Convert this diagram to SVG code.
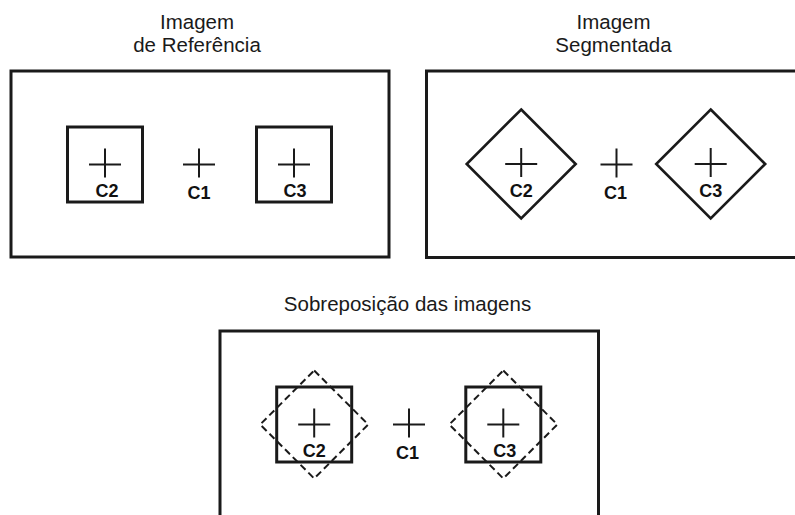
<svg xmlns="http://www.w3.org/2000/svg" xmlns:xlink="http://www.w3.org/1999/xlink" width="795" height="515" viewBox="0 0 795 515">
  <style>
    .frame { fill: none; stroke: #1a1a1a; stroke-width: 3; }
    .sq { fill: none; stroke: #1a1a1a; stroke-width: 3; }
    .dia { fill: none; stroke: #1a1a1a; stroke-width: 2.6; stroke-linejoin: miter; }
    .dash { fill: none; stroke: #1a1a1a; stroke-width: 2; stroke-dasharray: 7 4; }
    .cross { stroke: #1a1a1a; stroke-width: 2; fill: none; }
    .title { font-family: "Liberation Sans", Arial, sans-serif; font-size: 20.5px; fill: #1a1a1a; text-anchor: middle; }
    .lbl { font-family: "Liberation Sans", Arial, sans-serif; font-size: 18px; font-weight: bold; fill: #111; text-anchor: middle; }
  </style>
  <defs>
    <!-- centroid marker -->
    <path id="cross" class="cross" d="M-16 0H16M0 -16V13"/>
    <!-- square region, 75 px side -->
    <rect id="square" class="sq" x="-37.5" y="-37.5" width="75" height="75"/>
    <!-- rotated region (segmented) -->
    <path id="diamond" class="dia" d="M0 -54.5L54.5 0L0 54.5L-54.5 0Z"/>
    <path id="diamondDash" class="dash" d="M0 -54L54 0L0 54L-54 0Z"/>
  </defs>

  <!-- panel titles -->
  <g id="titles">
    <text class="title" x="197" y="29">Imagem</text>
    <text class="title" x="197" y="51.5">de Referência</text>
    <text class="title" x="613.5" y="29">Imagem</text>
    <text class="title" x="613.5" y="51.5">Segmentada</text>
    <text class="title" x="407.5" y="310.5">Sobreposição das imagens</text>
  </g>

  <!-- reference image panel -->
  <g id="reference">
    <rect class="frame" x="11" y="71" width="378" height="186"/>
    <g id="ref-c2" transform="translate(105,164.5)">
      <use xlink:href="#square"/>
      <use xlink:href="#cross"/>
      <text class="lbl" x="2" y="32.5">C2</text>
    </g>
    <g id="ref-c1" transform="translate(199,164.5)">
      <use xlink:href="#cross"/>
      <text class="lbl" x="0" y="34.5">C1</text>
    </g>
    <g id="ref-c3" transform="translate(294,164.5)">
      <use xlink:href="#square"/>
      <use xlink:href="#cross"/>
      <text class="lbl" x="1" y="32.5">C3</text>
    </g>
  </g>

  <!-- segmented image panel -->
  <g id="segmented">
    <rect class="frame" x="426.5" y="71" width="420" height="186.5"/>
    <g id="seg-c2" transform="translate(521.2,164)">
      <use xlink:href="#diamond"/>
      <use xlink:href="#cross"/>
      <text class="lbl" x="0" y="32.5">C2</text>
    </g>
    <g id="seg-c1" transform="translate(616.5,164.5)">
      <use xlink:href="#cross"/>
      <text class="lbl" x="-1" y="34.5">C1</text>
    </g>
    <g id="seg-c3" transform="translate(710.7,164)">
      <use xlink:href="#diamond"/>
      <use xlink:href="#cross"/>
      <text class="lbl" x="0" y="32.5">C3</text>
    </g>
  </g>

  <!-- overlay panel -->
  <g id="overlay">
    <rect class="frame" x="220" y="331" width="378.5" height="250"/>
    <g id="ovl-c2" transform="translate(314.2,424.5)">
      <use xlink:href="#square"/>
      <use xlink:href="#diamondDash"/>
      <use xlink:href="#cross"/>
      <text class="lbl" x="0" y="32.5">C2</text>
    </g>
    <g id="ovl-c1" transform="translate(409,424.5)">
      <use xlink:href="#cross"/>
      <text class="lbl" x="-1.5" y="34">C1</text>
    </g>
    <g id="ovl-c3" transform="translate(503.3,424.5)">
      <use xlink:href="#square"/>
      <use xlink:href="#diamondDash"/>
      <use xlink:href="#cross"/>
      <text class="lbl" x="1.5" y="32.5">C3</text>
    </g>
  </g>
</svg>
